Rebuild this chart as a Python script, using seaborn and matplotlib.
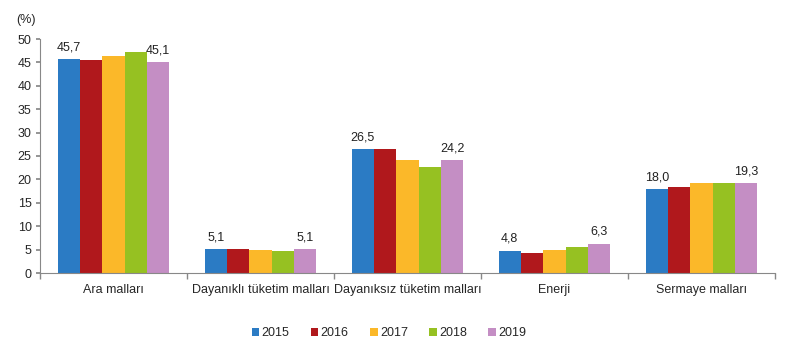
import pandas as pd
import seaborn as sns
import matplotlib.pyplot as plt
from matplotlib.ticker import FixedLocator

sns.set_theme(style="white")
plt.rcParams['font.family'] = ['Liberation Sans', 'DejaVu Sans']

# veriler
categories = ["Ara malları", "Dayanıklı tüketim malları", "Dayanıksız tüketim malları",
              "Enerji", "Sermaye malları"]
years = ["2015", "2016", "2017", "2018", "2019"]
v2015 = [45.7, 5.1, 26.5, 4.8, 18.0]
v2016 = [45.6, 5.1, 26.5, 4.3, 18.4]
v2017 = [46.4, 5.0, 24.1, 5.0, 19.3]
v2018 = [47.2, 4.8, 22.7, 5.6, 19.3]
v2019 = [45.1, 5.1, 24.2, 6.3, 19.3]
colors = ["#2B7BC4", "#B0181C", "#FBB829", "#96C122", "#C48EC4"]

rows = []
for y, vals in zip(years, [v2015, v2016, v2017, v2018, v2019]):
    for c, v in zip(categories, vals):
        rows.append([c, y, v])
df = pd.DataFrame(rows, columns=["kategori", "yil", "deger"])

fig = plt.figure(figsize=(7.86, 3.56), dpi=100)
ax = fig.add_axes([40 / 786, 1 - 273 / 356, 735 / 786, 234 / 356])
sns.barplot(data=df, x="kategori", y="deger", hue="yil", palette=colors,
            width=0.76, gap=0, saturation=1, linewidth=0, ax=ax, legend=True)

ax.set_ylim(0, 50)
ax.set_xlim(-0.5, 4.5)
ax.set_yticks(range(0, 51, 5))
ax.set_xlabel("")
ax.set_ylabel("")
ax.tick_params(axis="y", labelsize=9, length=3, color="#888888", direction="out", left=True, pad=3)
ax.tick_params(axis="x", which="major", labelsize=9, length=0, pad=8)
ax.xaxis.set_minor_locator(FixedLocator([i - 0.5 for i in range(6)]))
ax.tick_params(axis="x", which="minor", length=4, color="#888888", direction="out", bottom=True)
for s in ["top", "right"]:
    ax.spines[s].set_visible(False)
for s in ["left", "bottom"]:
    ax.spines[s].set_color("#888888")
    ax.spines[s].set_linewidth(0.8)

# ilk ve son yil etiketleri
for i in range(len(categories)):
    for j, vals in [(0, v2015), (4, v2019)]:
        x = i + (j - 2) * 0.152
        ax.text(x, vals[i] + 1.2, f"{vals[i]:.1f}".replace(".", ","),
                ha="center", va="bottom", fontsize=9, color="#222222")

fig.text(16 / 786, 1 - 20 / 356, "(%)", fontsize=9, va="center", ha="left")

ax.legend(loc="center", bbox_to_anchor=(389 / 786, 1 - 333 / 356), bbox_transform=fig.transFigure,
          ncol=5, frameon=False, fontsize=9, handlelength=0.6, handleheight=0.6,
          handletextpad=0.2, columnspacing=1.7)

plt.savefig("out.png", dpi=100)
